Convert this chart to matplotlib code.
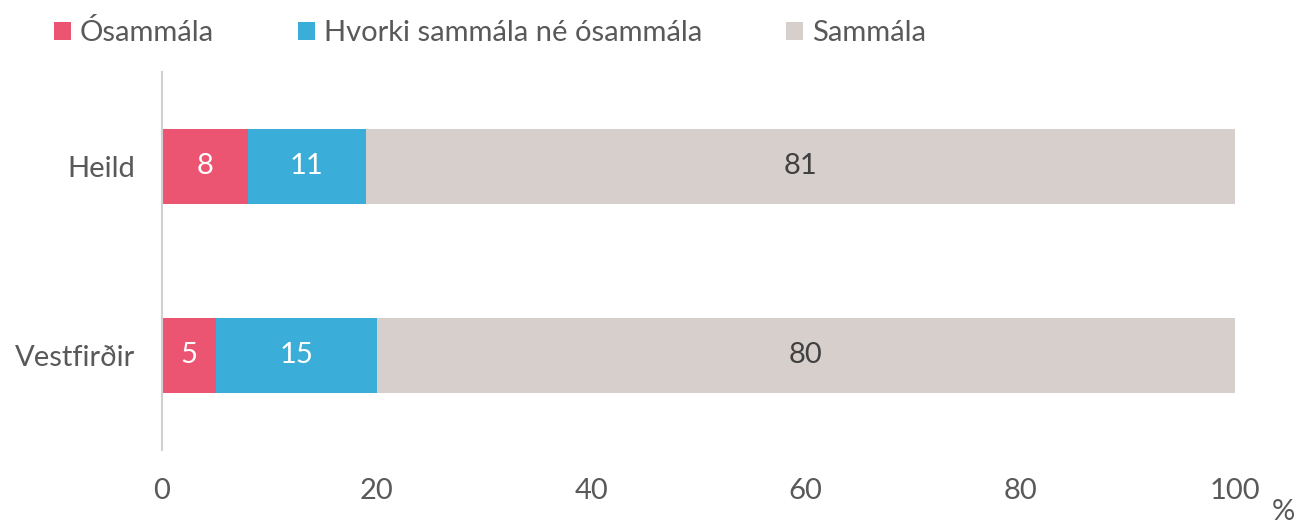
import numpy as np
import matplotlib.pyplot as plt
from matplotlib.patches import Patch

# данные
categories = ['Vestfirðir', 'Heild']
series_names = ['Ósammála', 'Hvorki sammála né ósammála', 'Sammála']
osammala = [5, 8]
hvorki = [15, 11]
sammala = [80, 81]
colors = ['#EC5572', '#3AADD9', '#D7CFCC']
label_colors = ['white', 'white', '#404040']
xticks = [0, 20, 40, 60, 80, 100]

plt.rcParams['font.family'] = ['Lato', 'DejaVu Sans']
txt = '#595959'
fs = 21

fig = plt.figure(figsize=(13.02, 5.25), dpi=100)
ax = fig.add_axes([0.1244, 0.1429, 0.8241, 0.72])

y = np.arange(len(categories))
left = np.zeros(len(categories))
for vals, col, lc in zip([osammala, hvorki, sammala], colors, label_colors):
    bars = ax.barh(y, vals, left=left, height=0.4, color=col, edgecolor='none')
    ax.bar_label(bars, labels=[str(v) for v in vals], label_type='center',
                 color=lc, fontsize=fs)
    left = left + np.array(vals)

ax.set_xlim(0, 100)
ax.set_ylim(-0.5, 1.5)
ax.set_yticks(y)
ax.set_yticklabels(categories, fontsize=fs, color=txt)
ax.set_xticks(xticks)
ax.set_xticklabels([str(t) for t in xticks], fontsize=fs, color=txt)
ax.tick_params(axis='x', length=0, pad=20)
ax.tick_params(axis='y', length=0, pad=19)
for s in ['top', 'right', 'bottom']:
    ax.spines[s].set_visible(False)
ax.spines['left'].set_color('#D0D0D0')
ax.spines['left'].set_linewidth(1.5)

fig.text(0.986, 0.025, '%', fontsize=fs, color=txt, ha='center', va='center')

handles = [Patch(facecolor=c, edgecolor='none') for c in colors]
fig.legend(handles, series_names, loc='upper left', bbox_to_anchor=(0.021, 1.014),
           ncol=3, frameon=False, fontsize=fs, labelcolor=txt,
           handlelength=0.58, handleheight=0.58, handletextpad=0.3,
           columnspacing=2.9)

fig.savefig('out.png', dpi=100)
